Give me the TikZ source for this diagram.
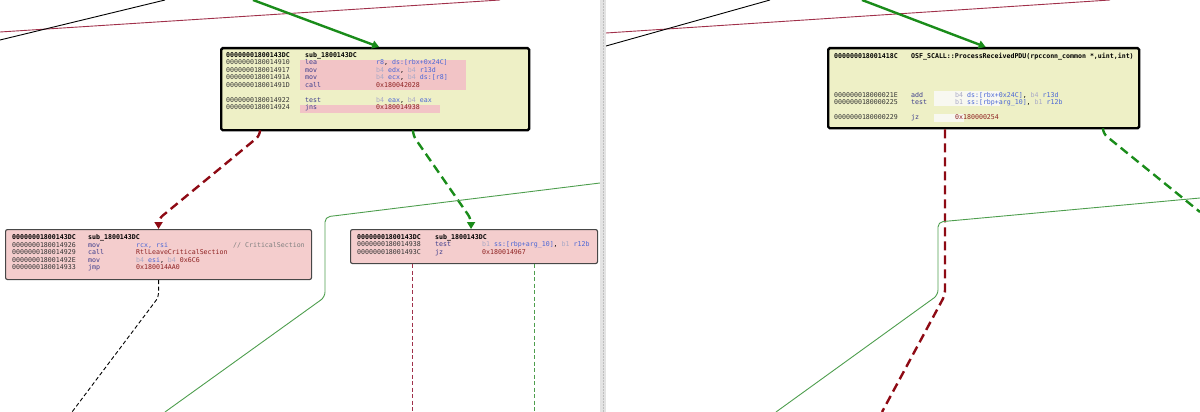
\documentclass[tikz,border=0pt]{standalone}
\usepackage{fontspec}
\newfontfamily\asmfont{DejaVu Sans Mono}
\usetikzlibrary{arrows.meta,positioning,calc}
\definecolor{blockyellow}{HTML}{EEF0C6}
\definecolor{blockpink}{HTML}{F4CDCD}
\definecolor{markpink}{HTML}{F2C4C6}
\definecolor{markwhite}{HTML}{F8F8F1}
\definecolor{idagreen}{HTML}{1A8C1A}
\definecolor{idared}{HTML}{8E0A14}
\definecolor{thingreen}{HTML}{4E9E4E}
\definecolor{thinred}{HTML}{A0304A}
\definecolor{addrgray}{HTML}{333333}
\definecolor{mnemblue}{HTML}{3C3C8C}
\definecolor{regblue}{HTML}{4A66D6}
\definecolor{numred}{HTML}{8E2222}
\definecolor{pregray}{HTML}{A9A9C6}
\newcommand{\asmreg}[1]{\textcolor{regblue}{#1}}
\newcommand{\asmnum}[1]{\textcolor{numred}{#1}}
\newcommand{\asmpre}[1]{\textcolor{pregray}{#1}}
\newcommand{\asmcols}[3]{\def\colA{#1}\def\colB{#2}\def\colC{#3}}
\newcommand{\asmrow}[5]{%
  \node[asm, text=addrgray] (#1-a) at (\colA,#2) {#3};
  \node[asm, text=mnemblue] (#1-m) at (\colB,#2) {#4};
  \node[asm] (#1-o) at (\colC,#2) {#5};}

\begin{document}
\begin{tikzpicture}[x=1pt, y=-1pt,
    asm/.style={anchor=base west, inner sep=0pt, font=\asmfont\fontsize{6.6}{7}\selectfont},
    topblock/.style={draw=black, line width=2.4pt, fill=blockyellow, rounded corners=1.5pt, anchor=north west, inner sep=0pt},
    sideblock/.style={draw=black!72, line width=1.1pt, fill=blockpink, rounded corners=2pt, anchor=north west, inner sep=0pt},
    flowok/.style={draw=idagreen, line width=2.4pt, -{Triangle[width=8pt,length=7pt]}},
    flowno/.style={draw=idared, line width=2.4pt, dash pattern=on 9pt off 5pt, -{Triangle[width=8pt,length=7pt]}},
    thinok/.style={draw=thingreen, line width=0.9pt},
    thinno/.style={draw=thinred, line width=0.9pt}]
    \useasboundingbox (0,0) rectangle (1200,412);
    % Draw long edges of the left view
    \coordinate (l-r0) at (0,32);   \coordinate (l-r1) at (500,0);
    \coordinate (l-k0) at (0,40);   \coordinate (l-k1) at (165,0);
    \draw[thinno] (l-r0) -- (l-r1);
    \draw[black, line width=0.9pt] (l-k0) -- (l-k1);
    % Draw blocks of the left view
    \node[topblock, minimum width=308, minimum height=82] (topL) at (220,47) {};
    \node[sideblock, minimum width=306, minimum height=50] (blkL) at (5,229) {};
    \node[sideblock, minimum width=247, minimum height=34] (blkR) at (350,229) {};
    \fill[markpink] (300,60) rectangle (466,90);
    \fill[markpink] (300,105) rectangle (440,113);
    \asmcols{226}{305}{376}
    \asmrow{ta0}{57.5}{\textcolor{black}{\bfseries 00000001800143DC}}{\textcolor{black}{\bfseries sub\_1800143DC}}{}
    \asmrow{ta1}{65}{0000000180014910}{lea}{\asmreg{r8}, \asmreg{ds:[rbx+0x24C]}}
    \asmrow{ta2}{72.5}{0000000180014917}{mov}{\asmpre{b4} \asmreg{edx}, \asmpre{b4} \asmreg{r13d}}
    \asmrow{ta3}{80}{000000018001491A}{mov}{\asmpre{b4} \asmreg{ecx}, \asmpre{b4} \asmreg{ds:[r8]}}
    \asmrow{ta4}{87.5}{000000018001491D}{call}{\asmnum{0x180042028}}
    \asmrow{ta5}{102.5}{0000000180014922}{test}{\asmpre{b4} \asmreg{eax}, \asmpre{b4} \asmreg{eax}}
    \asmrow{ta6}{110}{0000000180014924}{jns}{\asmnum{0x180014938}}
    \asmcols{12}{88}{136}
    \asmrow{la0}{239.5}{\textcolor{black}{\bfseries 00000001800143DC}}{\textcolor{black}{\bfseries sub\_1800143DC}}{}
    \asmrow{la1}{247}{0000000180014926}{mov}{\asmreg{rcx, rsi}}
    \node[asm, text=gray] (la1-c) at (233,247) {// CriticalSection};
    \asmrow{la2}{254.5}{0000000180014929}{call}{\asmnum{RtlLeaveCriticalSection}}
    \asmrow{la3}{262}{000000018001492E}{mov}{\asmpre{b4} \asmreg{esi}, \asmpre{b4} \asmnum{0x6C6}}
    \asmrow{la4}{269.5}{0000000180014933}{jmp}{\asmnum{0x180014AA0}}
    \asmcols{357}{435}{482}
    \asmrow{ra0}{239}{\textcolor{black}{\bfseries 00000001800143DC}}{\textcolor{black}{\bfseries sub\_1800143DC}}{}
    \asmrow{ra1}{246.5}{0000000180014938}{test}{\asmpre{b1} \asmreg{ss:[rbp+arg\_10]}, \asmpre{b1} \asmreg{r12b}}
    \asmrow{ra2}{254}{000000018001493C}{jz}{\asmnum{0x180014967}}
    % Draw edges between the blocks
    \coordinate (l-in) at (253,0);
    \draw[flowok] (l-in) -- ($(topL.north)+(4,0)$);
    \draw[flowno, rounded corners=5pt] ($(topL.south west)+(40,0)$) -- ++(0,4) -- ($(blkL.north)+(0,-10)$) -- (blkL.north);
    \draw[flowno, draw=idagreen, rounded corners=5pt] ($(topL.south west)+(193,0)$) -- ++(0,4) -- ($(blkR.north)+(-3,-10)$) -- ($(blkR.north)+(-3,0)$);
    \coordinate (l-o1) at (72,412);
    \coordinate (l-o2) at (412,412);
    \coordinate (l-o3) at (534,412);
    \coordinate (l-g0) at (600,183);
    \coordinate (l-o4) at (165,412);
    \draw[black, line width=0.9pt, dash pattern=on 4pt off 2.5pt, rounded corners=4pt] (blkL.south) -- ++(0,17) -- (l-o1);
    \draw[thinno, dash pattern=on 4pt off 2.5pt] ($(blkR.south west)+(62,0)$) -- (l-o2);
    \draw[thinok, dash pattern=on 4pt off 2.5pt] ($(blkR.south west)+(184,0)$) -- (l-o3);
    \draw[thinok, rounded corners=5pt] (l-g0) -- (325,217) -- (325,297) -- (l-o4);

    % Draw long edges of the right view
    \coordinate (r-r0) at (606,33);  \coordinate (r-r1) at (1110,0);
    \coordinate (r-k0) at (606,46);  \coordinate (r-k1) at (770,0);
    \draw[thinno] (r-r0) -- (r-r1);
    \draw[black, line width=0.9pt] (r-k0) -- (r-k1);
    % Draw the block of the right view
    \node[topblock, minimum width=311, minimum height=80] (topR) at (827,47) {};
    \fill[markwhite] (934,91) rectangle (1000,106);
    \fill[markwhite] (934,114) rectangle (964,122);
    \asmcols{834}{911}{955}
    \node[asm, text=black, font=\asmfont\fontsize{6.6}{7}\selectfont\bfseries] (tb0-a) at (834,58.5) {000000018001418C};
    \node[asm, text=black, font=\asmfont\fontsize{6.6}{7}\selectfont\bfseries] (tb0-m) at (911,58.5) {OSF\_SCALL::ProcessReceivedPDU(rpcconn\_common *,uint,int)};
    \asmrow{tb1}{97}{000000018000021E}{add}{\asmpre{b4} \asmreg{ds:[rbx+0x24C]}, \asmpre{b4} \asmreg{r13d}}
    \asmrow{tb2}{104.5}{0000000180000225}{test}{\asmpre{b1} \asmreg{ss:[rbp+arg\_10]}, \asmpre{b1} \asmreg{r12b}}
    \asmrow{tb3}{119.5}{0000000180000229}{jz}{\asmnum{0x180000254}}
    % Draw edges of the right view
    \coordinate (r-in) at (862,0);
    \draw[flowok] (r-in) -- ($(topR.north)+(2,0)$);
    \coordinate (r-o1) at (882,412);
    \coordinate (r-o2) at (1200,212);
    \coordinate (r-g0) at (1200,198);
    \coordinate (r-o3) at (776,412);
    \draw[flowno, -, rounded corners=5pt] ($(topR.south west)+(118,0)$) -- (945,295) -- (r-o1);
    \draw[flowno, -, draw=idagreen, rounded corners=5pt] ($(topR.south west)+(276,0)$) -- ++(0,4) -- (r-o2);
    \draw[thinok, rounded corners=5pt] (r-g0) -- (938,222) -- (938,295) -- (r-o3);

    % Draw the divider
    \fill[gray!22] (600,0) rectangle (606,412);
    \draw[gray!50, line width=0.5pt, densely dotted] (603,0) -- (603,412);
\end{tikzpicture}
\end{document}
